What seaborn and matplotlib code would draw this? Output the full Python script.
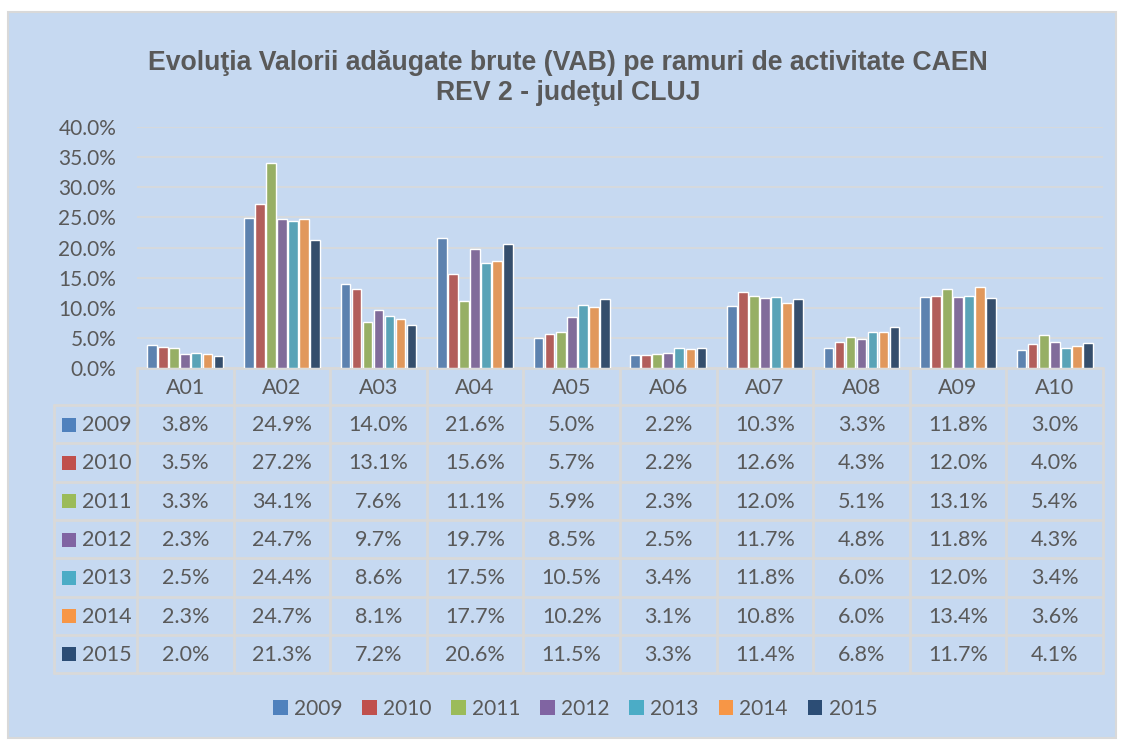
import pandas as pd
import seaborn as sns
import matplotlib.pyplot as plt
from matplotlib.patches import Rectangle, Patch
from matplotlib.transforms import blended_transform_factory

# ---------------------
# 1. DATA
# ---------------------
codes = ['A01', 'A02', 'A03', 'A04', 'A05', 'A06', 'A07', 'A08', 'A09', 'A10']
years = ['2009', '2010', '2011', '2012', '2013', '2014', '2015']

v2009 = [3.8, 24.9, 14.0, 21.6, 5.0, 2.2, 10.3, 3.3, 11.8, 3.0]
v2010 = [3.5, 27.2, 13.1, 15.6, 5.7, 2.2, 12.6, 4.3, 12.0, 4.0]
v2011 = [3.3, 34.1, 7.6, 11.1, 5.9, 2.3, 12.0, 5.1, 13.1, 5.4]
v2012 = [2.3, 24.7, 9.7, 19.7, 8.5, 2.5, 11.7, 4.8, 11.8, 4.3]
v2013 = [2.5, 24.4, 8.6, 17.5, 10.5, 3.4, 11.8, 6.0, 12.0, 3.4]
v2014 = [2.3, 24.7, 8.1, 17.7, 10.2, 3.1, 10.8, 6.0, 13.4, 3.6]
v2015 = [2.0, 21.3, 7.2, 20.6, 11.5, 3.3, 11.4, 6.8, 11.7, 4.1]

series = [v2009, v2010, v2011, v2012, v2013, v2014, v2015]
colors = ['#4F81BD', '#C0504D', '#9BBB59', '#8064A2', '#4BACC6', '#F79646', '#2C4D75']

rows = []
for yr, vals in zip(years, series):
    for c, v in zip(codes, vals):
        rows.append({'code': c, 'year': yr, 'value': v})
df = pd.DataFrame(rows)

# ---------------------
# 2. FIGURE
# ---------------------
BG = '#C6D9F1'
GRID = '#D9D9D9'
TXT = '#595959'
W, H = 1121, 740

sns.set_style('white')
plt.rcParams['font.family'] = ['Lato', 'DejaVu Sans']

fig = plt.figure(figsize=(W / 100, H / 100), dpi=100, facecolor='white')

# overlay in pixel coordinates for background, title, table
tab = fig.add_axes([0, 0, 1, 1], zorder=0)
tab.set_xlim(0, W)
tab.set_ylim(H, 0)
tab.axis('off')
tab.add_patch(Rectangle((8, 12), 1108, 726, facecolor=BG, edgecolor=GRID, lw=1.5))

tab.text(568, 78, 'Evoluţia Valorii adăugate brute (VAB) pe ramuri de activitate CAEN\nREV 2 - judeţul CLUJ',
         ha='center', va='center', fontsize=19.2, fontweight='bold', color=TXT,
         family=['Liberation Sans', 'DejaVu Sans'], linespacing=1.15)

# bar axes
x0, x1, ytop, ybot = 137, 1103, 127, 368
ax = fig.add_axes([x0 / W, 1 - ybot / H, (x1 - x0) / W, (ybot - ytop) / H], zorder=1)
ax.patch.set_alpha(0)
sns.barplot(data=df, x='code', y='value', hue='year', palette=colors,
            width=0.8, gap=0.12, ax=ax, legend=False)
ax.set_ylim(0, 40)
ax.set_xlim(-0.5, len(codes) - 0.5)
ax.set_yticks(range(0, 41, 5))
ax.set_yticklabels([f'{t:.1f}%' for t in range(0, 41, 5)], fontsize=15, color=TXT)
ax.tick_params(axis='y', length=0, pad=15)
ax.set_xticks([])
ax.set_xlabel('')
ax.set_ylabel('')
ax.grid(axis='y', color=GRID, lw=1.2)
ax.set_axisbelow(True)
for s in ax.spines.values():
    s.set_visible(False)

# ---------------------
# 3. DATA TABLE
# ---------------------
trans = blended_transform_factory(ax.transData, tab.transData)
row_h = 38.3
hdr_top, hdr_bot = ybot, 405
left = 54
n = len(codes)

# grid lines
tab.plot([x0, x1], [hdr_top, hdr_top], color=GRID, lw=2)
tab.plot([left, x1], [hdr_bot, hdr_bot], color=GRID, lw=2)
for k in range(1, len(years) + 1):
    yy = hdr_bot + k * row_h
    tab.plot([left, x1], [yy, yy], color=GRID, lw=2)
bottom = hdr_bot + len(years) * row_h
tab.plot([left, left], [hdr_bot, bottom], color=GRID, lw=2)
for i in range(n + 1):
    tab.plot([i - 0.5, i - 0.5], [hdr_top, bottom], color=GRID, lw=2, transform=trans)

for i, c in enumerate(codes):
    tab.text(i, (hdr_top + hdr_bot) / 2 + 1, c, transform=trans, ha='center', va='center',
             fontsize=15.5, color=TXT)

for k, (yr, vals) in enumerate(zip(years, series)):
    yc = hdr_bot + (k + 0.5) * row_h + 1
    tab.add_patch(Rectangle((62, yc - 7.5), 13.5, 14, facecolor=colors[k], edgecolor='none'))
    tab.text(82, yc, yr, ha='left', va='center', fontsize=15.5, color=TXT)
    for i, v in enumerate(vals):
        tab.text(i, yc, f'{v:.1f}%', transform=trans, ha='center', va='center',
                 fontsize=15.5, color=TXT)

# ---------------------
# 4. LEGEND
# ---------------------
handles = [Patch(facecolor=c, edgecolor='none', label=y) for c, y in zip(colors, years)]
fig.legend(handles=handles, loc='center', bbox_to_anchor=(575 / W, 1 - 709 / H), ncol=7,
           frameon=False, fontsize=15, labelcolor=TXT, handlelength=0.7, handleheight=0.7,
           handletextpad=0.3, columnspacing=0.95)

fig.savefig('out.png', dpi=100, facecolor='white')
